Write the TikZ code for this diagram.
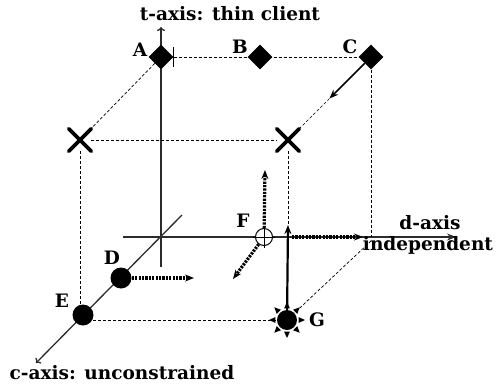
\documentclass[tikz,border=0pt]{standalone}
\usepackage{fontspec}
\setmainfont{DejaVu Serif}
\usetikzlibrary{arrows.meta,calc,positioning,shapes.geometric,shapes.misc}
\definecolor{axGray}{HTML}{2B2B2B}

\begin{document}
\begin{tikzpicture}[x=1pt,y=-1pt,>={Stealth[length=9pt,width=7pt]},
  lbl/.style={font=\fontsize{18.5}{20}\selectfont\bfseries,inner sep=0pt},
  axis/.style={axGray,line width=1.3pt},
  guide/.style={black,line width=0.7pt,dash pattern=on 3pt off 2pt},
  move/.style={black,line width=3.2pt,dash pattern=on 2.2pt off 1.2pt},
  vtx/.style={diamond,fill=black,minimum width=25pt,minimum height=25pt,inner sep=0pt},
  ball/.style={circle,fill=black,minimum size=21pt,inner sep=0pt},
  cross/.style={cross out,draw=black,line width=3.8pt,line cap=round,minimum size=19pt,inner sep=0pt}]
\useasboundingbox (0,0) rectangle (504,386);
% axes
\coordinate (tbot) at (161,267);
\coordinate (tend) at (161,27);
\coordinate (dbeg) at (123,237);
\coordinate (dend) at (456,237);
\coordinate (cbeg) at (182,215);
\coordinate (cend) at (36,363);
\draw[axis,-{To[length=4pt,width=8pt]}] (tbot) -- (tend);
\draw[axis,->] (dbeg) -- (dend);
\draw[axis,-{To[length=4pt,width=8pt]}] (cbeg) -- (cend);
% corners of the cube
\node[vtx] (A) at (161,57) {};
\node[vtx] (B) at (260,57) {};
\node[vtx] (C) at (371,57) {};
\node[cross] (xl) at (80,140) {};
\node[cross] (xr) at (288,140) {};
\node[ball] (D) at (121,278) {};
\node[ball] (E) at (83,315) {};
\node[draw,circle,fill=white,line width=1pt,minimum size=17pt,inner sep=0pt] (F) at (264,237) {};
\node[ball,minimum size=20pt] (G) at (287,320) {};
\coordinate (dv) at (371,237);
\coordinate (gtop) at (288,225);
\coordinate (gmid) at (292,237);
\coordinate (dmove) at (363,237);
\coordinate (ftop) at (265,170);
\coordinate (fdown) at (233,279);
\coordinate (dtip) at (194,278);
\coordinate (cmid) at ($(C)!0.5!(xr)$);
\draw[line width=0.6pt] ([xshift=12pt,yshift=10pt]A.center) -- ([xshift=12pt,yshift=-10pt]A.center);
\draw[guide] (A) -- (C);
\draw[guide] (A) -- (xl);
\draw[guide] (xl) -- (xr);
\draw[guide] (xl) -- (xl |- E.north);
\draw[guide] (xr) -- (xr |- gtop);
\draw[guide] (C) -- (dv);
\draw[guide] ([yshift=-4pt]dv) -- (G);
\draw[guide] (E |- G) -- (G);
\draw[line width=1.6pt,->] (C) -- (cmid);
\draw[guide] (cmid) -- (xr);
% crosshair of F
\draw[line width=1pt] ([yshift=2pt]F.north) -- ([yshift=-2pt]F.south);
\draw[line width=1pt] ([xshift=-2pt]F.west) -- ([xshift=2pt]F.east);
% moves
\draw[move,->] (D) -- (dtip);
\draw[move,->] (F) -- (ftop);
\draw[move,->] (F) -- (fdown);
\draw[line width=2.2pt,->] (G) -- (gtop);
\draw[move,->] (gmid) -- (dmove);
\foreach \a in {0,45,...,315}
  \fill ($(G)+(\a-14:12)$) -- ($(G)+(\a:18)$) -- ($(G)+(\a+14:12)$) -- cycle;
% labels
\node[lbl] (tlab) at (230,14) {t-axis: thin client};
\node[lbl] (Alab) at (140,50) {A};
\node[lbl] (Blab) at (240,47) {B};
\node[lbl] (Clab) at (350,47) {C};
\node[lbl] (Dlab) at (112,258) {D};
\node[lbl] (Elab) at (62,301) {E};
\node[lbl] (Flab) at (243,221) {F};
\node[lbl] (Glab) at (317,320) {G};
\node[lbl] (dlab) at (430,223) {d-axis};
\node[lbl] (ilab) at (428,245) {independent};
\node[lbl] (clab) at (122,373) {c-axis: unconstrained};
\end{tikzpicture}
\end{document}
